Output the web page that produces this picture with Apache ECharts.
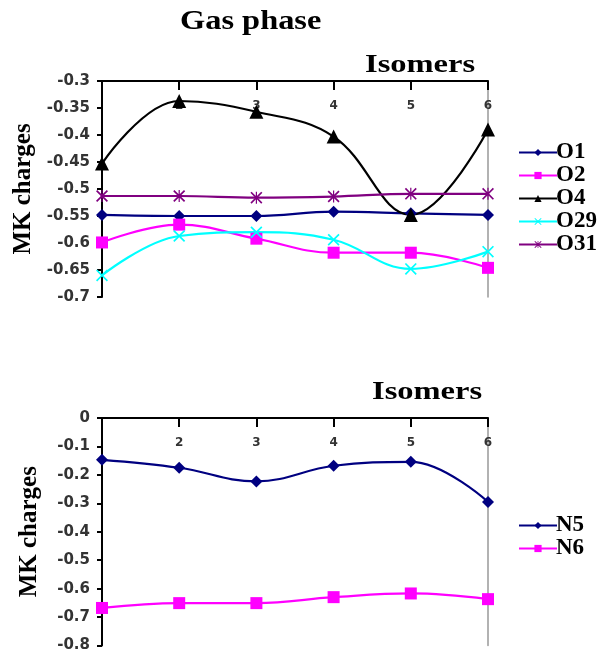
<!DOCTYPE html>
<html>
<head>
<meta charset="utf-8">
<script src="https://cdn.jsdelivr.net/npm/echarts@6/dist/echarts.min.js"></script>
<style>
html,body{margin:0;padding:0;background:#fff;}
#main{width:601px;height:653px;}
</style>
</head>
<body>
<div id="main"></div>
<script>
// MK charges, gas phase: O atoms (top) and N atoms (bottom)
var categories = ['1', '2', '3', '4', '5', '6'];
var o1  = [-0.548, -0.550, -0.550, -0.542, -0.545, -0.548];
var o2  = [-0.599, -0.566, -0.592, -0.618, -0.618, -0.646];
var o4  = [-0.453, -0.337, -0.357, -0.403, -0.548, -0.390];
var o29 = [-0.660, -0.587, -0.580, -0.594, -0.648, -0.616];
var o31 = [-0.513, -0.513, -0.516, -0.514, -0.509, -0.509];
var n5  = [-0.147, -0.175, -0.223, -0.168, -0.154, -0.295];
var n6  = [-0.668, -0.651, -0.651, -0.630, -0.617, -0.637];

var serif = '"Liberation Serif", "DejaVu Serif", serif';
var sans = '"DejaVu Sans", "Liberation Sans", sans-serif';

var crossPath = 'path://M0,1 L1,0 L5,4 L9,0 L10,1 L6,5 L10,9 L9,10 L5,6 L1,10 L0,9 L4,5 Z';
var starPath = 'path://M0,1 L1,0 L5,4 L9,0 L10,1 L6,5 L10,9 L9,10 L5,6 L1,10 L0,9 L4,5 Z M4.5,0 L5.5,0 L5.5,10 L4.5,10 Z';

var chart = echarts.init(document.getElementById('main'));

function xAx(gi) {
    return {
        type: 'category', gridIndex: gi, data: categories, position: 'top', boundaryGap: false,
        axisLine: {lineStyle: {color: '#000', width: 2}},
        axisTick: {inside: true, length: 9, lineStyle: {color: '#000', width: 2}},
        axisLabel: {inside: true, margin: 19, color: '#333', fontFamily: sans, fontWeight: 'bold', fontSize: 12,
            formatter: function (v) { return v === '1' ? '' : v; }},
        splitLine: {show: false}
    };
}
function yAx(gi, min, max, step, gap) {
    return {
        type: 'value', gridIndex: gi, min: min, max: max, interval: step,
        name: 'MK charges', nameLocation: 'middle', nameRotate: 90, nameGap: gap,
        nameTextStyle: {fontFamily: serif, fontWeight: 'bold', fontSize: 25, color: '#000'},
        axisLine: {show: true, onZero: false, lineStyle: {color: '#000', width: 2}},
        axisTick: {show: true, length: 5, lineStyle: {color: '#000', width: 2}},
        axisLabel: {color: '#333', fontFamily: sans, fontWeight: 'bold', fontSize: 15, margin: 12,
            formatter: function (v) { return String(Math.round(v * 100) / 100); }},
        splitLine: {show: false}
    };
}
function yRight(gi, min, max) {
    return {
        type: 'value', gridIndex: gi, min: min, max: max, position: 'right',
        axisLine: {show: true, onZero: false, lineStyle: {color: '#999', width: 1.5}},
        axisTick: {show: false}, axisLabel: {show: false}, splitLine: {show: false}
    };
}
function line(name, data, color, symbol, size, xi, yi) {
    return {
        name: name, type: 'line', data: data, xAxisIndex: xi, yAxisIndex: yi,
        smooth: 0.4, symbol: symbol, symbolSize: size,
        lineStyle: {color: color, width: 2.2},
        itemStyle: {color: color}
    };
}
function label(text, x, y, size, sx) {
    return {
        type: 'text', x: x, y: y, scaleX: sx, z: 10,
        style: {text: text, fill: '#000', fontFamily: serif, fontWeight: 'bold', fontSize: size, textVerticalAlign: 'top'}
    };
}
function legendText(lh) {
    return {
        rich: {a: {fontFamily: serif, fontWeight: 'bold', fontSize: 23, lineHeight: lh, height: lh, color: '#000', padding: [0, 0, 0, -6]}}
    };
}

var option = {
    animation: false,
    graphic: [
        label('Gas phase', 180, 9, 27, 1.2),
        label('Isomers', 365, 53, 25, 1.3),
        label('Isomers', 372, 380, 25, 1.3)
    ],
    legend: [
        {data: ['O1', 'O2', 'O4', 'O29', 'O31'], orient: 'vertical', left: 513, top: 136, itemGap: 0,
            itemWidth: 38, itemHeight: 9, formatter: '{a|{name}}', textStyle: legendText(20)},
        {data: ['N5', 'N6'], orient: 'vertical', left: 513, top: 509, itemGap: 0,
            itemWidth: 38, itemHeight: 9, formatter: '{a|{name}}', textStyle: legendText(22)}
    ],
    grid: [
        {left: 102, top: 81, width: 386, height: 216},
        {left: 102, top: 418, width: 386, height: 233}
    ],
    xAxis: [xAx(0), xAx(1)],
    yAxis: [
        yAx(0, -0.7, -0.3, 0.05, 59),
        yAx(1, -0.8, 0, 0.1, 60),
        yRight(0, -0.7, -0.3),
        yRight(1, -0.8, 0)
    ],
    series: [
        line('O1', o1, '#000080', 'diamond', 12, 0, 0),
        line('O2', o2, '#ff00ff', 'rect', 12, 0, 0),
        line('O4', o4, '#000000', 'triangle', 14, 0, 0),
        line('O29', o29, '#00ffff', crossPath, 12, 0, 0),
        line('O31', o31, '#800080', starPath, 12, 0, 0),
        line('N5', n5, '#000080', 'diamond', 12, 1, 1),
        line('N6', n6, '#ff00ff', 'rect', 12, 1, 1)
    ]
};
chart.setOption(option);
</script>
</body>
</html>
